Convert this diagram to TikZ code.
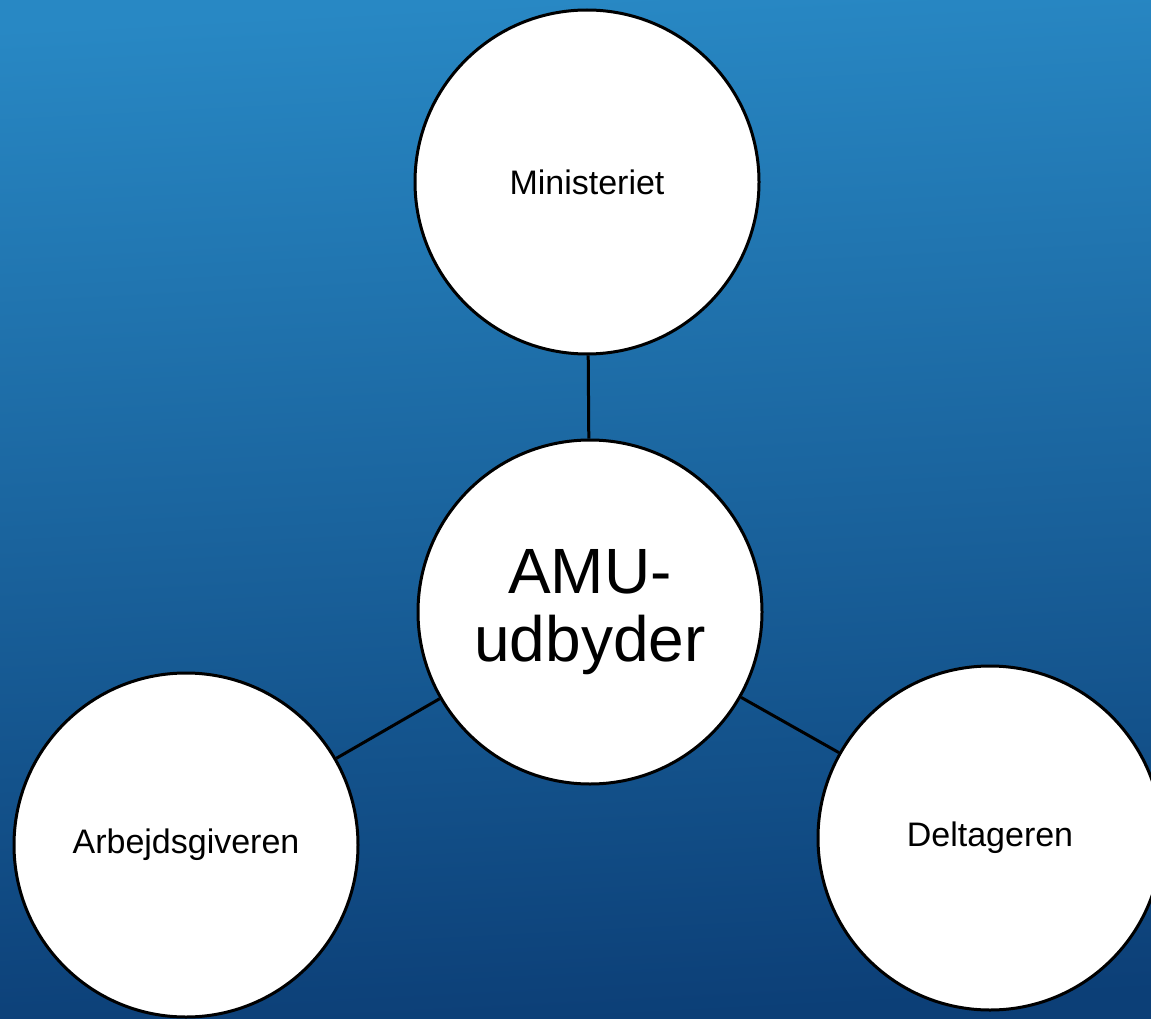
\documentclass[tikz,border=0pt]{standalone}
\usepackage{fontspec}
\setmainfont{Liberation Sans}
\begin{document}
\begin{tikzpicture}[x=1pt,y=-1pt,
  actor/.style={circle, draw=black, line width=3pt, fill=white,
    minimum size=344pt, inner sep=0pt, align=center, font=\fontsize{34}{38}\selectfont},
  hub/.style={actor, font=\fontsize{64}{68}\selectfont},
  link/.style={draw=black, line width=3pt}]
  \definecolor{bgtop}{HTML}{2888C4}
  \definecolor{bgbottom}{HTML}{0C3F77}
  \clip (0,0) rectangle (1151,1019);
  \useasboundingbox (0,0) rectangle (1151,1019);
  \shade[top color=bgtop, bottom color=bgbottom, shading angle=3] (0,0) rectangle (1151,1019);
  % stakeholders around the provider
  \node[hub]   (amu) at (590,612) {AMU-\\udbyder};
  \node[actor] (min) at (587,182) {Ministeriet};
  \node[actor] (arb) at (186,845) {Arbejdsgiveren};
  \node[actor] (del) at (990,838) {Deltageren};
  % connectors
  \draw[link] (min) -- (amu);
  \draw[link] (amu) -- (arb);
  \draw[link] (amu) -- (del);
\end{tikzpicture}
\end{document}
